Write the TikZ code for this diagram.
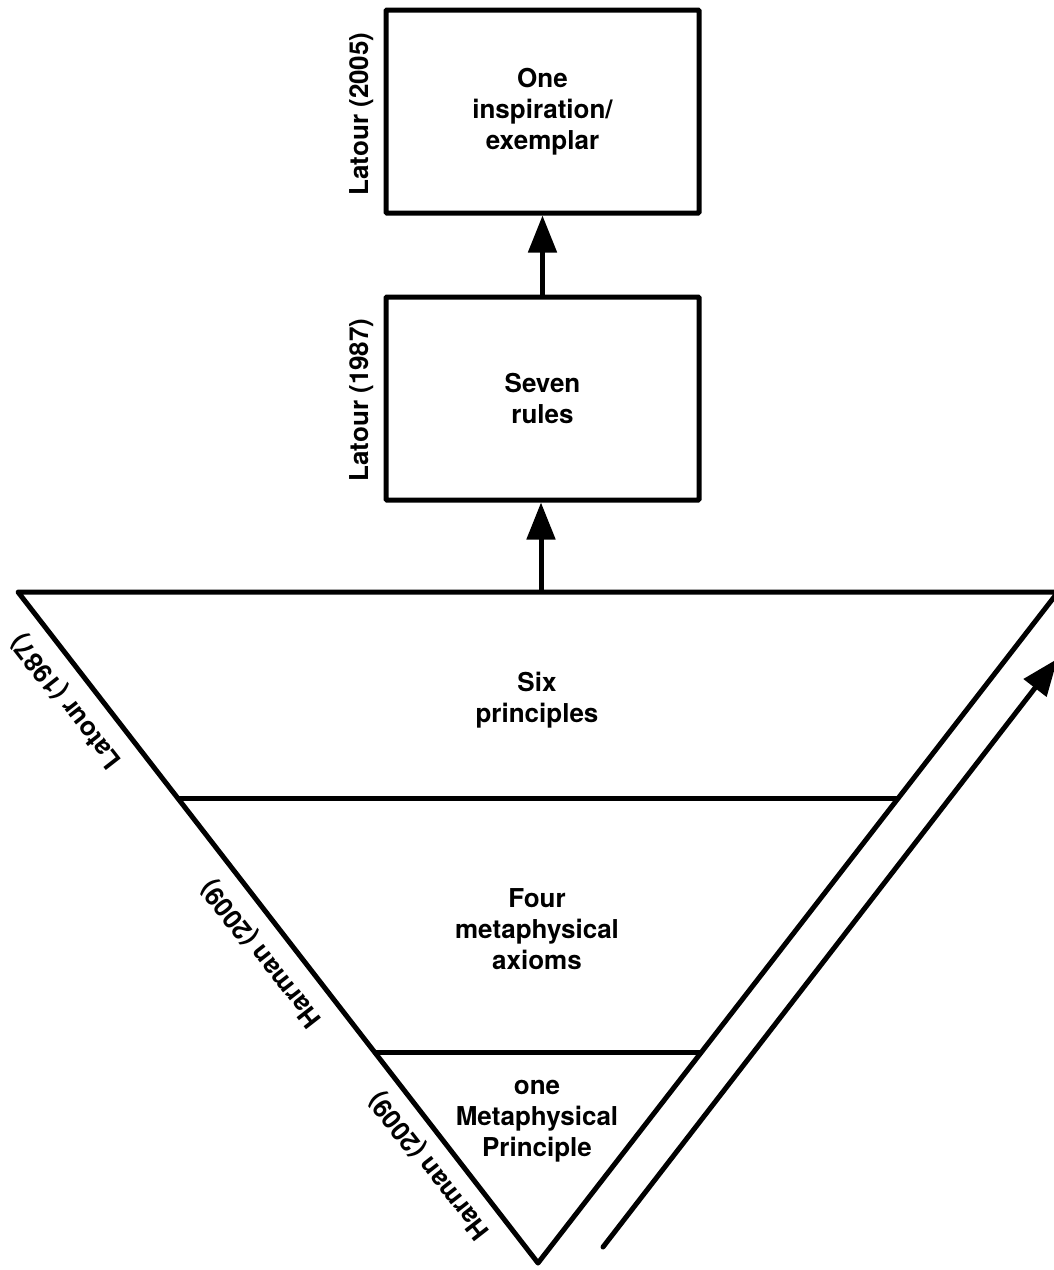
\documentclass[tikz,border=0pt]{standalone}
\usepackage{fontspec}
\setmainfont{TeX Gyre Heros}
\usetikzlibrary{arrows.meta,calc}
\begin{document}
\begin{tikzpicture}[x=1pt,y=-1pt,
  every node/.style={font=\fontsize{26}{31}\selectfont\bfseries, inner sep=0pt},
  boxnode/.style={draw, line width=5pt, minimum width=313pt, minimum height=203pt, align=center, rounded corners=1pt},
  txt/.style={align=center},
  conn/.style={line width=5pt, -{Triangle[length=37pt,width=28pt]}},
  edge line/.style={line width=5pt, line join=round},
  sidelbl/.style={rotate=128}
]
\useasboundingbox (0,0) rectangle (1053,1270);

% boxes
\node[boxnode] (box1) at (542.5,111.5) {One\\inspiration/\\exemplar};
\node[boxnode] (box2) at (542.5,398.5) {Seven\\rules};
\node[rotate=90] (lbl1) at (362,114) {Latour (2005)};
\node[rotate=90] (lbl2) at (362,400) {Latour (1987)};

% triangle
\coordinate (TL) at (18,592);
\coordinate (TR) at (1058,592);
\coordinate (B) at (538,1263);
\draw[edge line] (TL) -- (TR) -- (B) -- cycle;
\coordinate (L1) at ($(TL)!0.307!(B)$);
\coordinate (R1) at ($(TR)!0.307!(B)$);
\coordinate (L2) at ($(TL)!0.687!(B)$);
\coordinate (R2) at ($(TR)!0.687!(B)$);
\draw[edge line] (L1) -- (R1);
\draw[edge line] (L2) -- (R2);

\node[txt] (t1) at (537,700) {Six\\principles};
\node[txt] (t2) at (537,929) {Four\\metaphysical\\axioms};
\node[txt] (t3) at (537,1121) {one\\Metaphysical\\Principle};

\node[sidelbl] (s1) at (67,701) {Latour (1987)};
\node[sidelbl] (s2) at (262,953) {Harman (2009)};
\node[sidelbl] (s3) at (430,1165) {Harman (2009)};

% connectors
\coordinate (tritop) at (541,592);
\draw[conn] (box2.north) -- (box1.south);
\draw[conn] (tritop) -- (tritop |- box2.south);
\coordinate (rs) at (603,1247);
\coordinate (re) at (1057.6,658.7);
\draw[conn, line cap=round] (rs) -- (re);
\end{tikzpicture}
\end{document}
